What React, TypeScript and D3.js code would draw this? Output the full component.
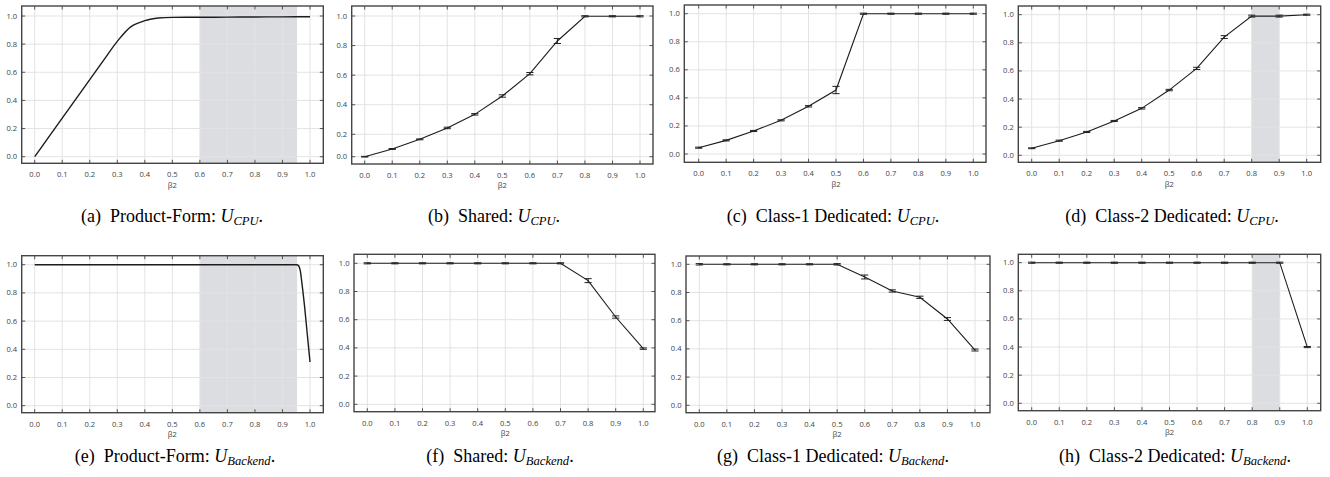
import React from 'react';
import * as d3 from 'd3';

// ---------- data ----------
const betaTicks = [0, 0.1, 0.2, 0.3, 0.4, 0.5, 0.6, 0.7, 0.8, 0.9, 1.0];
const uTicks = [0, 0.2, 0.4, 0.6, 0.8, 1.0];
const xAxisTitle = 'β2';

const betaPoints = [0, 0.1, 0.2, 0.3, 0.4, 0.5, 0.6, 0.7, 0.8, 0.9, 1.0];

// (a) Product-Form U_CPU (continuous)
const pfCpuBeta = [0, 0.05, 0.1, 0.15, 0.2, 0.25, 0.3, 0.35, 0.38, 0.4, 0.42, 0.45, 0.5, 0.6, 0.7, 0.8, 0.9, 1.0];
const pfCpuU = [0, 0.137, 0.274, 0.411, 0.548, 0.685, 0.82, 0.925, 0.953, 0.967, 0.977, 0.986, 0.99, 0.991, 0.992, 0.993, 0.994, 0.995];

// (e) Product-Form U_Backend (continuous)
const pfBackendBeta = [0, 0.1, 0.2, 0.3, 0.4, 0.5, 0.6, 0.7, 0.8, 0.9, 0.95, 0.955, 0.96, 0.965, 0.97, 0.98, 0.99, 1.0];
const pfBackendU = [1, 1, 1, 1, 1, 1, 1, 1, 1, 1, 1, 0.998, 0.988, 0.955, 0.88, 0.71, 0.51, 0.31];

// (b) Shared U_CPU
const sharedCpuU = [0.0, 0.069, 0.155, 0.243, 0.335, 0.459, 0.61, 0.831, 0.998, 0.998, 0.998];
const sharedCpuErr = [0.003, 0.004, 0.004, 0.005, 0.005, 0.008, 0.008, 0.017, 0.004, 0.004, 0.004];

// (c) Class-1 Dedicated U_CPU
const class1CpuU = [0.045, 0.097, 0.164, 0.24, 0.34, 0.456, 1.0, 1.0, 1.0, 1.0, 1.0];
const class1CpuErr = [0.004, 0.004, 0.004, 0.004, 0.005, 0.026, 0.004, 0.004, 0.004, 0.004, 0.004];

// (d) Class-2 Dedicated U_CPU
const class2CpuU = [0.05, 0.104, 0.166, 0.244, 0.334, 0.464, 0.618, 0.841, 0.99, 0.99, 1.0];
const class2CpuErr = [0.003, 0.004, 0.004, 0.004, 0.005, 0.005, 0.008, 0.01, 0.007, 0.007, 0.004];

// (f) Shared U_Backend
const sharedBackendU = [1.0, 1.0, 1.0, 1.0, 1.0, 1.0, 1.0, 1.0, 0.877, 0.619, 0.395];
const sharedBackendErr = [0.004, 0.004, 0.004, 0.004, 0.004, 0.004, 0.004, 0.004, 0.014, 0.008, 0.005];

// (g) Class-1 Dedicated U_Backend
const class1BackendU = [1.0, 1.0, 1.0, 1.0, 1.0, 1.0, 0.91, 0.811, 0.766, 0.612, 0.392];
const class1BackendErr = [0.005, 0.004, 0.004, 0.004, 0.004, 0.005, 0.014, 0.008, 0.008, 0.01, 0.007];

// (h) Class-2 Dedicated U_Backend
const class2BackendU = [1.0, 1.0, 1.0, 1.0, 1.0, 1.0, 1.0, 1.0, 1.0, 1.0, 0.4];
const class2BackendErr = [0.004, 0.004, 0.004, 0.004, 0.004, 0.004, 0.004, 0.004, 0.004, 0.004, 0.004];

// shaded regions
const pfShade = [0.6, 0.953];
const class2Shade = [0.8, 0.9];

// captions
const captionLetters = ['(a)', '(b)', '(c)', '(d)', '(e)', '(f)', '(g)', '(h)'];
const captionNames = [
  'Product-Form:', 'Shared:', 'Class-1 Dedicated:', 'Class-2 Dedicated:',
  'Product-Form:', 'Shared:', 'Class-1 Dedicated:', 'Class-2 Dedicated:',
];
const captionSubs = ['CPU', 'CPU', 'CPU', 'CPU', 'Backend', 'Backend', 'Backend', 'Backend'];

// ---------- panels ----------
type Series = {
  beta: number[];
  u: number[];
  err?: number[];
  smooth?: boolean;
  shade?: number[];
};

const series: Series[] = [
  { beta: pfCpuBeta, u: pfCpuU, smooth: true, shade: pfShade },
  { beta: betaPoints, u: sharedCpuU, err: sharedCpuErr },
  { beta: betaPoints, u: class1CpuU, err: class1CpuErr },
  { beta: betaPoints, u: class2CpuU, err: class2CpuErr, shade: class2Shade },
  { beta: pfBackendBeta, u: pfBackendU, smooth: true, shade: pfShade },
  { beta: betaPoints, u: sharedBackendU, err: sharedBackendErr },
  { beta: betaPoints, u: class1BackendU, err: class1BackendErr },
  { beta: betaPoints, u: class2BackendU, err: class2BackendErr, shade: class2Shade },
];

// layout (pixel geometry of each panel)
const layout = [
  { l: 21.7, r: 323.3, t: 6, b: 163.3, x0: 34.7, x1: 310, yDom: [0, 1], yRng: [156.7, 16], cx: 172, cy: 222 },
  { l: 351.7, r: 653, t: 6, b: 164, x0: 364.7, x1: 640, yDom: [0, 0.2, 1], yRng: [156.7, 134.3, 16], cx: 494, cy: 222 },
  { l: 684.3, r: 986, t: 5, b: 162.3, x0: 698.7, x1: 973.3, yDom: [0, 1], yRng: [154, 13.7], cx: 833, cy: 222 },
  { l: 1018.3, r: 1320.7, t: 6, b: 162.3, x0: 1031.7, x1: 1306.7, yDom: [0, 1], yRng: [155.3, 14.7], cx: 1172, cy: 222 },
  { l: 21.7, r: 323.3, t: 255.7, b: 412.7, x0: 34.7, x1: 310, yDom: [0, 1], yRng: [405.7, 264.7], cx: 175, cy: 461.5 },
  { l: 354, r: 655, t: 254.3, b: 411.7, x0: 367.3, x1: 643.3, yDom: [0, 1], yRng: [404.3, 263.3], cx: 500, cy: 461.5 },
  { l: 686, r: 990, t: 256, b: 412.7, x0: 699.3, x1: 975, yDom: [0, 1], yRng: [405.3, 264.3], cx: 833, cy: 461.5 },
  { l: 1018.3, r: 1320.7, t: 254.3, b: 410.7, x0: 1031.7, x1: 1307.3, yDom: [0, 1], yRng: [403.3, 262.7], cx: 1175, cy: 461.5 },
];

const tickFont = "'Open Sans', 'DejaVu Sans', sans-serif";
const capFont = "'Liberation Serif', 'Times New Roman', serif";

function Panel({ s, L, i }: { s: Series; L: any; i: number }) {
  const x = d3.scaleLinear().domain([0, 1]).range([L.x0, L.x1]);
  const y = d3.scaleLinear().domain(L.yDom).range(L.yRng);
  const pts: [number, number][] = s.beta.map((b, k) => [b, s.u[k]]);
  const line = d3
    .line<[number, number]>()
    .x((d) => x(d[0]))
    .y((d) => y(d[1]))
    .curve(s.smooth ? d3.curveMonotoneX : d3.curveLinear);
  const fmt = d3.format('.1f');
  const tl = 3.5;
  const capW = 3.6;
  return (
    <g>
      {s.shade && (
        <rect x={x(s.shade[0])} y={L.t} width={x(s.shade[1]) - x(s.shade[0])} height={L.b - L.t} fill="#dcdde0" />
      )}
      {betaTicks.map((b) => (
        <line key={'gx' + b} x1={x(b)} x2={x(b)} y1={L.t} y2={L.b} stroke="#e3e3e3" strokeWidth={1} />
      ))}
      {uTicks.map((u) => (
        <line key={'gy' + u} x1={L.l} x2={L.r} y1={y(u)} y2={y(u)} stroke="#e3e3e3" strokeWidth={1} />
      ))}
      {betaTicks.map((b) => (
        <g key={'tx' + b}>
          <line x1={x(b)} x2={x(b)} y1={L.t} y2={L.t + tl} stroke="#444" strokeWidth={0.9} />
          <line x1={x(b)} x2={x(b)} y1={L.b} y2={L.b - tl} stroke="#444" strokeWidth={0.9} />
          <text x={x(b)} y={L.b + 13.8} textAnchor="middle" fontFamily={tickFont} fontSize={7.6} fill="#444">
            {fmt(b)}
          </text>
        </g>
      ))}
      {uTicks.map((u) => (
        <g key={'ty' + u}>
          <line x1={L.l} x2={L.l + tl} y1={y(u)} y2={y(u)} stroke="#444" strokeWidth={0.9} />
          <line x1={L.r} x2={L.r - tl} y1={y(u)} y2={y(u)} stroke="#444" strokeWidth={0.9} />
          <text x={L.l - 4.5} y={y(u)} dy="0.33em" textAnchor="end" fontFamily={tickFont} fontSize={7.6} fill="#444">
            {fmt(u)}
          </text>
        </g>
      ))}
      <text x={(L.x0 + L.x1) / 2} y={L.b + 24.3} textAnchor="middle" fontFamily={tickFont} fontSize={7.6} fill="#444">
        {xAxisTitle}
      </text>
      <path d={line(pts) || ''} fill="none" stroke="#1c1c1c" strokeWidth={s.smooth ? 1.4 : 1.1} />
      {s.err &&
        pts.map((d, k) => {
          const e = s.err![k];
          const yt = y(d[1] + e);
          const yb = y(d[1] - e);
          const xc = x(d[0]);
          return (
            <g key={'e' + k} stroke="#222" strokeWidth={1}>
              <line x1={xc} x2={xc} y1={yt} y2={yb} />
              <line x1={xc - capW} x2={xc + capW} y1={yt} y2={yt} />
              <line x1={xc - capW} x2={xc + capW} y1={yb} y2={yb} />
            </g>
          );
        })}
      <rect x={L.l} y={L.t} width={L.r - L.l} height={L.b - L.t} fill="none" stroke="#454545" strokeWidth={1.4} />
      <text x={L.cx} y={L.cy} textAnchor="middle" fontFamily={capFont} fontSize={18} fill="#000">
        <tspan>{captionLetters[i]}</tspan>
        <tspan>{'\u00a0\u00a0' + captionNames[i] + '\u00a0'}</tspan>
        <tspan fontStyle="italic">U</tspan>
        <tspan fontStyle="italic" fontSize={12.6} dy={3}>
          {captionSubs[i]}
        </tspan>
        <tspan dy={-3}>.</tspan>
      </text>
    </g>
  );
}

export default function App() {
  return (
    <svg width={1330} height={477} style={{ position: 'absolute', left: 0, top: 0, background: '#fff' }}>
      <rect width={1330} height={477} fill="#fff" />
      {series.map((s, i) => (
        <Panel key={i} s={s} L={layout[i]} i={i} />
      ))}
    </svg>
  );
}
